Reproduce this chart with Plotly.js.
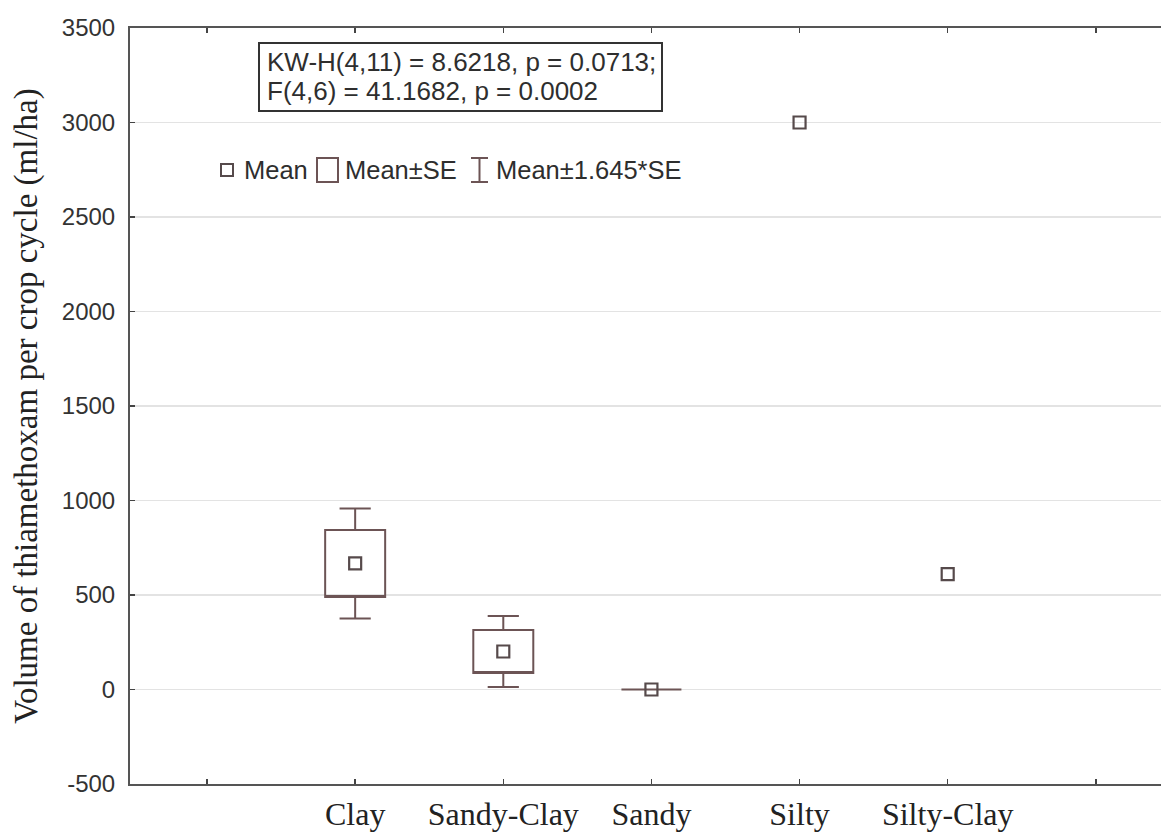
<!DOCTYPE html>
<html>
<head>
<meta charset="utf-8">
<script src="https://cdn.plot.ly/plotly-3.0.1.min.js"></script>
<style>html,body{margin:0;padding:0;background:#fff;}#chart{width:1161px;height:833px;}</style>
</head>
<body>
<div id="chart"></div>
<script>
// ---- data ----
const categories = ['Clay', 'Sandy-Clay', 'Sandy', 'Silty', 'Silty-Clay'];
const means = [667, 201, 0, 3000, 610];
const standardErrors = [177, 114, 0, null, null];
const ciFactor = 1.645;
const yTickValues = [-500, 0, 500, 1000, 1500, 2000, 2500, 3000, 3500];
const yTickLabels = ['-500', '0', '500', '1000', '1500', '2000', '2500', '3000', '3500'];
const statsText = ['KW-H(4,11) = 8.6218, p = 0.0713;', 'F(4,6) = 41.1682, p = 0.0002'];
const legendLabels = ['Mean', 'Mean\u00b1SE', 'Mean\u00b11.645*SE'];

// ---- derived ----
const xPos = categories.map((c, i) => i + 1);
const boxIdx = standardErrors.map((s, i) => s === null ? -1 : i).filter(i => i >= 0);
const boxX = boxIdx.map(i => xPos[i]);
const q1 = boxIdx.map(i => means[i] - standardErrors[i]);
const q3 = boxIdx.map(i => means[i] + standardErrors[i]);
const lowF = boxIdx.map(i => means[i] - ciFactor * standardErrors[i]);
const upF = boxIdx.map(i => means[i] + ciFactor * standardErrors[i]);

const boxColor = '#6c5455';
const markColor = '#564a4b';
const textColor = '#2e2e2e';
const serif = 'Liberation Serif, Times New Roman, serif';
const sans = 'Liberation Sans, Arial, sans-serif';

const traces = [
  {
    type: 'box',
    x: boxX,
    q1: q1,
    median: q1,
    q3: q3,
    lowerfence: lowF,
    upperfence: upF,
    width: 0.405,
    whiskerwidth: 0.52,
    boxpoints: false,
    line: {color: boxColor, width: 2},
    fillcolor: 'rgba(255,255,255,0)',
    showlegend: false,
    hoverinfo: 'skip'
  },
  {
    type: 'scatter',
    mode: 'markers',
    x: xPos,
    y: means,
    marker: {symbol: 'square-open', size: 12, color: markColor, line: {width: 2.2, color: markColor}},
    showlegend: false,
    hoverinfo: 'skip'
  }
];

// legend and stats box drawn in paper coordinates
const L = 130, W = 1031, B = 784, H = 756;
const px = v => (v - L) / W;
const py = v => (B - v) / H;
const legY = 170;

const shapes = [
  {type: 'rect', xref: 'paper', yref: 'paper', x0: px(259), x1: px(662), y0: py(111), y1: py(43), line: {color: '#333', width: 2}, fillcolor: '#fff', layer: 'above'},
  {type: 'rect', xref: 'paper', yref: 'paper', x0: px(221), x1: px(233), y0: py(176), y1: py(164), line: {color: markColor, width: 2}},
  {type: 'rect', xref: 'paper', yref: 'paper', x0: px(317), x1: px(338), y0: py(182), y1: py(158), line: {color: boxColor, width: 2}},
  {type: 'line', xref: 'paper', yref: 'paper', x0: px(479.5), x1: px(479.5), y0: py(182), y1: py(158), line: {color: boxColor, width: 2}},
  {type: 'line', xref: 'paper', yref: 'paper', x0: px(471), x1: px(488), y0: py(158), y1: py(158), line: {color: boxColor, width: 2}},
  {type: 'line', xref: 'paper', yref: 'paper', x0: px(471), x1: px(488), y0: py(182), y1: py(182), line: {color: boxColor, width: 2}}
];

const annotations = [
  {xref: 'paper', yref: 'paper', x: px(265), y: py(62.5), xanchor: 'left', yanchor: 'middle', showarrow: false,
   text: statsText[0], font: {family: sans, size: 26, color: textColor}},
  {xref: 'paper', yref: 'paper', x: px(265), y: py(90.5), xanchor: 'left', yanchor: 'middle', showarrow: false,
   text: statsText[1], font: {family: sans, size: 26, color: textColor}},
  {xref: 'paper', yref: 'paper', x: px(242), y: py(legY), xanchor: 'left', yanchor: 'middle', showarrow: false,
   text: legendLabels[0], font: {family: sans, size: 25.5, color: textColor}},
  {xref: 'paper', yref: 'paper', x: px(343), y: py(legY), xanchor: 'left', yanchor: 'middle', showarrow: false,
   text: legendLabels[1], font: {family: sans, size: 25.5, color: textColor}},
  {xref: 'paper', yref: 'paper', x: px(494), y: py(legY), xanchor: 'left', yanchor: 'middle', showarrow: false,
   text: legendLabels[2], font: {family: sans, size: 25.5, color: textColor}}
];

const tickVals = [0].concat(xPos, [categories.length + 1]);
const tickText = [''].concat(categories, ['']);

const layout = {
  width: 1161, height: 833,
  margin: {l: 130, r: 0, t: 28, b: 49},
  paper_bgcolor: '#fff', plot_bgcolor: '#fff',
  showlegend: false,
  xaxis: {
    range: [-0.52, 6.44],
    tickvals: tickVals, ticktext: tickText,
    ticks: 'inside', ticklen: 5, tickwidth: 1.5, tickcolor: '#444',
    showline: true, linecolor: '#555', linewidth: 2, mirror: 'ticks',
    showgrid: false, zeroline: false,
    tickfont: {family: serif, size: 32, color: '#222'},
    ticklabelstandoff: 1
  },
  yaxis: {
    range: [-500, 3500],
    tickvals: yTickValues, ticktext: yTickLabels,
    ticks: 'inside', ticklen: 5, tickwidth: 1.5, tickcolor: '#444',
    showline: true, linecolor: '#555', linewidth: 2,
    showgrid: true, gridcolor: '#e3e3e3', gridwidth: 1.5,
    zeroline: false,
    tickfont: {family: sans, size: 24, color: '#333'},
    ticklabelstandoff: 8,
    title: {text: 'Volume of thiamethoxam per crop cycle (ml/ha)', font: {family: serif, size: 33, color: '#222'}, standoff: 14}
  },
  shapes: shapes,
  annotations: annotations
};

Plotly.newPlot('chart', traces, layout, {displayModeBar: false, staticPlot: true});
</script>
</body>
</html>
